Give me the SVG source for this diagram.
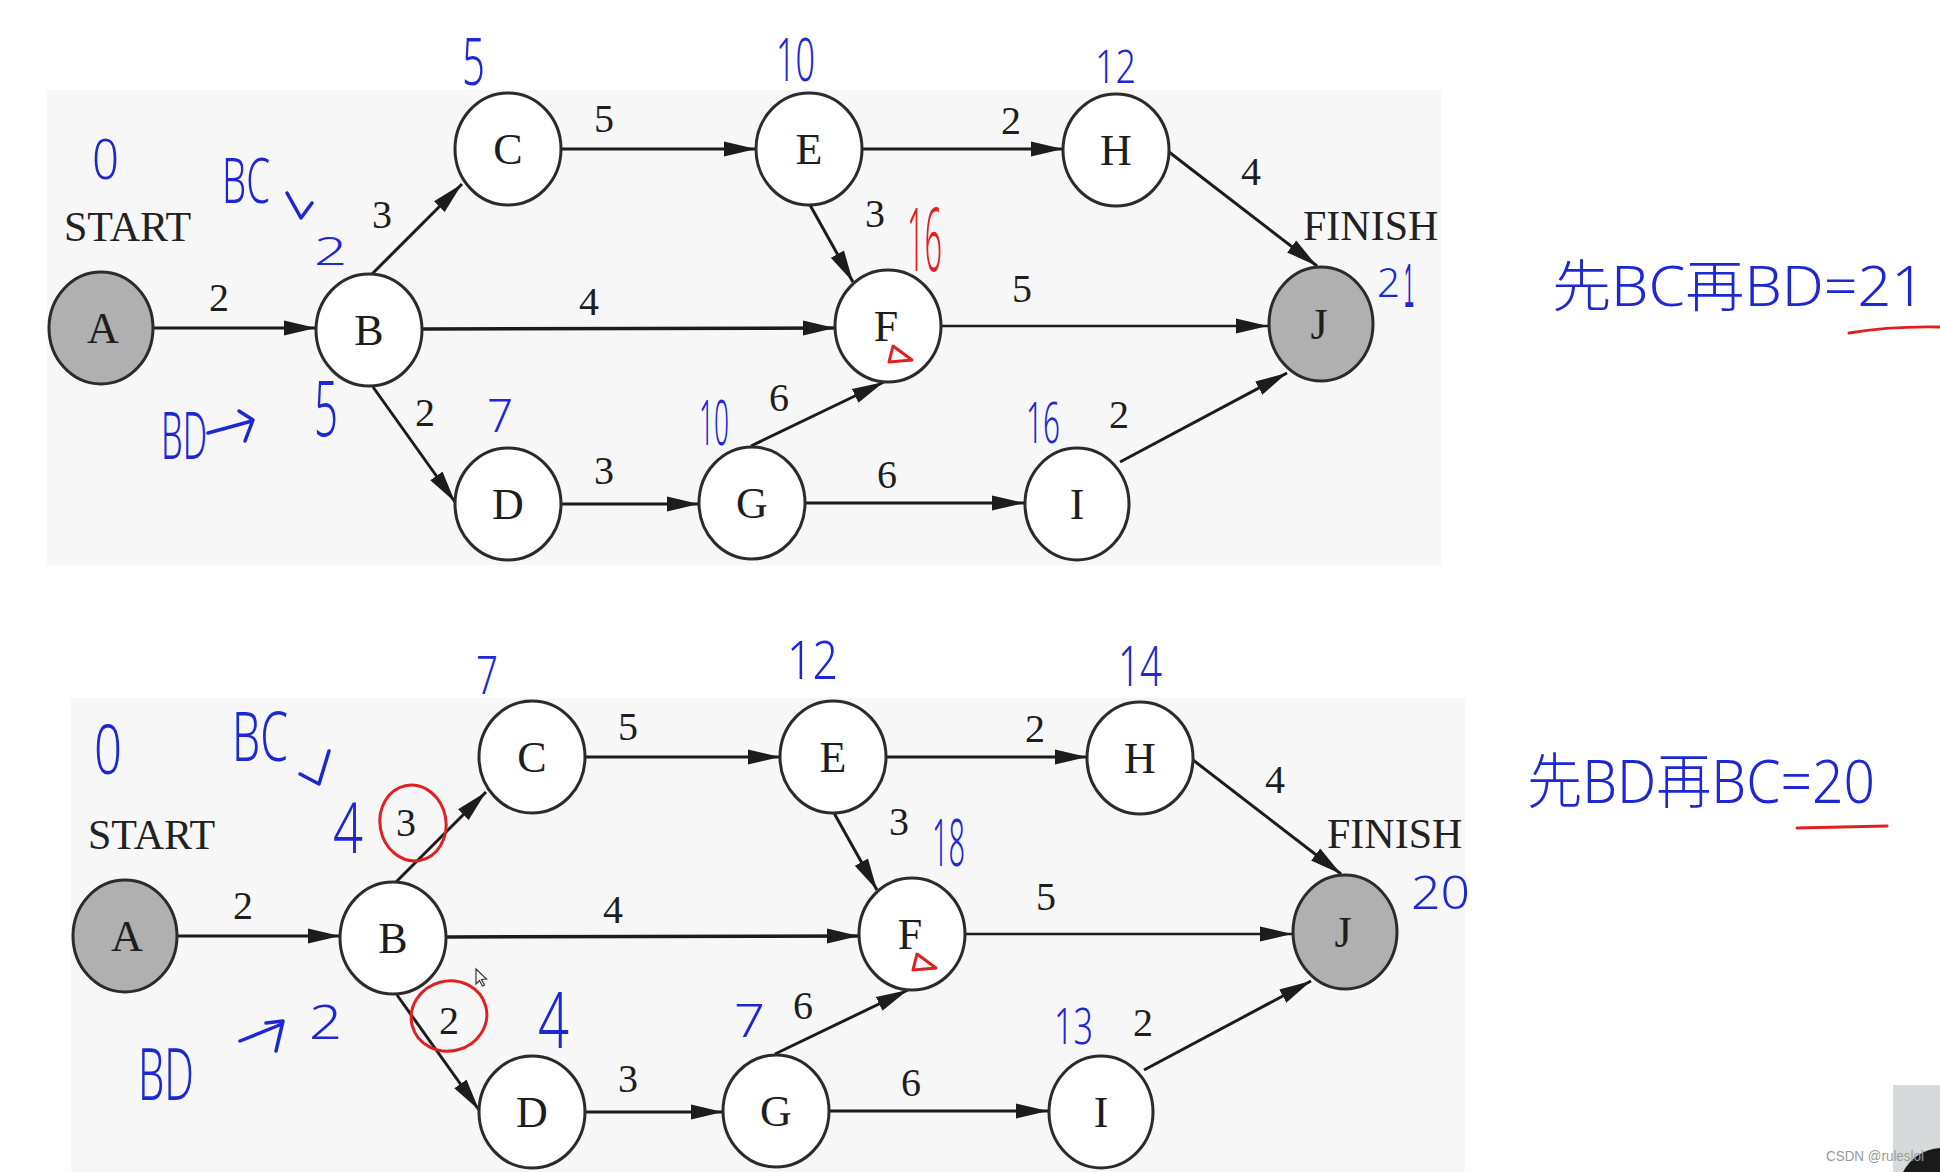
<svg xmlns="http://www.w3.org/2000/svg" width="1940" height="1172" viewBox="0 0 1940 1172">
<style>
.bg{fill:#f7f7f7}
.nd{fill:#ffffff;stroke:#2b2b2b;stroke-width:3}
.nd.term{fill:#b0b0b0}
.lt{font-family:"Liberation Serif","Times New Roman",serif;font-size:44px;fill:#1e1e1e;text-anchor:middle}
.el{font-family:"Liberation Serif","Times New Roman",serif;font-size:40px;fill:#1e1e1e;text-anchor:middle}
.cap{font-family:"Liberation Serif","Times New Roman",serif;font-size:42px;fill:#222}
.ed{stroke:#1c1c1c;stroke-width:3;fill:none;marker-end:url(#arr)}
.hw{font-family:"Noto Sans","Noto Sans CJK SC",sans-serif;font-weight:300;fill:#1e28d2}
.hwr{font-family:"Noto Sans","Noto Sans CJK SC",sans-serif;font-weight:300;fill:#e02020}
.pen{fill:none;stroke:#1e28d2;stroke-width:3.5;stroke-linecap:round;stroke-linejoin:round}
.rpen{fill:none;stroke:#e02020;stroke-width:3;stroke-linecap:round;stroke-linejoin:round}
</style>
<defs>
<marker id="arr" markerUnits="userSpaceOnUse" markerWidth="34" markerHeight="16" refX="32" refY="8" orient="auto">
<path d="M0,0.5 L32,8 L0,15.5 z" fill="#1c1c1c"/>
</marker>
</defs>
<rect width="1940" height="1172" fill="#ffffff"/>

<!-- Top diagram -->
<g id="diagram1">
<rect class="bg" x="47" y="90" width="1394" height="475"/>
<text class="cap" x="64" y="241">START</text>
<text class="cap" x="1303" y="240">FINISH</text>
<g id="d1-connectors">
<path class="ed" d="M153,328 L316,328"/>
<path class="ed" d="M372,274 L462,184"/>
<path class="ed" d="M422,329 L835,328" style="stroke-width:3.5"/>
<path class="ed" d="M373,387 L455,502"/>
<path class="ed" d="M561,149 L756,149"/>
<path class="ed" d="M561,504 L699,504"/>
<path class="ed" d="M751,446 L884,382"/>
<path class="ed" d="M805,503 L1024,503"/>
<path class="ed" d="M862,149 L1063,149"/>
<path class="ed" d="M810,205 L853,282"/>
<path class="ed" d="M1169,152 L1317,266"/>
<path class="ed" d="M941,326 L1268,326" style="stroke-width:2.5"/>
<path class="ed" d="M1120,462 L1287,373"/>
<text class="el" x="219" y="311">2</text>
<text class="el" x="382" y="228">3</text>
<text class="el" x="589" y="315">4</text>
<text class="el" x="425" y="426">2</text>
<text class="el" x="604" y="132">5</text>
<text class="el" x="604" y="484">3</text>
<text class="el" x="779" y="411">6</text>
<text class="el" x="1011" y="134">2</text>
<text class="el" x="875" y="227">3</text>
<text class="el" x="1251" y="185">4</text>
<text class="el" x="1022" y="302">5</text>
<text class="el" x="887" y="488">6</text>
<text class="el" x="1119" y="428">2</text>
</g>
<g id="d1-A"><ellipse class="nd term" cx="101" cy="328" rx="52" ry="56"/><text class="lt" x="103" y="343">A</text></g>
<g id="d1-B"><ellipse class="nd" cx="369" cy="330" rx="53" ry="56"/><text class="lt" x="369" y="345">B</text></g>
<g id="d1-C"><ellipse class="nd" cx="508" cy="149" rx="53" ry="56"/><text class="lt" x="508" y="164">C</text></g>
<g id="d1-D"><ellipse class="nd" cx="508" cy="504" rx="53" ry="56"/><text class="lt" x="508" y="519">D</text></g>
<g id="d1-E"><ellipse class="nd" cx="809" cy="149" rx="53" ry="56"/><text class="lt" x="809" y="164">E</text></g>
<g id="d1-F"><ellipse class="nd" cx="888" cy="326" rx="53" ry="56"/><text class="lt" x="886" y="341">F</text></g>
<g id="d1-G"><ellipse class="nd" cx="752" cy="503" rx="53" ry="56"/><text class="lt" x="752" y="518">G</text></g>
<g id="d1-H"><ellipse class="nd" cx="1116" cy="150" rx="53" ry="56"/><text class="lt" x="1116" y="165">H</text></g>
<g id="d1-I"><ellipse class="nd" cx="1077" cy="504" rx="52" ry="56"/><text class="lt" x="1077" y="519">I</text></g>
<g id="d1-J"><ellipse class="nd term" cx="1321" cy="324" rx="52" ry="57"/><text class="lt" x="1319" y="339">J</text></g>
</g>

<!-- Bottom diagram -->
<g id="diagram2" transform="translate(24,608)">
<rect class="bg" x="47" y="90" width="1394" height="480"/>
<text class="cap" x="64" y="241">START</text>
<text class="cap" x="1303" y="240">FINISH</text>
<g id="d2-connectors">
<path class="ed" d="M153,328 L316,328"/>
<path class="ed" d="M372,274 L462,184"/>
<path class="ed" d="M422,329 L835,328" style="stroke-width:3.5"/>
<path class="ed" d="M373,387 L455,502"/>
<path class="ed" d="M561,149 L756,149"/>
<path class="ed" d="M561,504 L699,504"/>
<path class="ed" d="M751,446 L884,382"/>
<path class="ed" d="M805,503 L1024,503"/>
<path class="ed" d="M862,149 L1063,149"/>
<path class="ed" d="M810,205 L853,282"/>
<path class="ed" d="M1169,152 L1317,266"/>
<path class="ed" d="M941,326 L1268,326" style="stroke-width:2.5"/>
<path class="ed" d="M1120,462 L1287,373"/>
<text class="el" x="219" y="311">2</text>
<text class="el" x="382" y="228">3</text>
<text class="el" x="589" y="315">4</text>
<text class="el" x="425" y="426">2</text>
<text class="el" x="604" y="132">5</text>
<text class="el" x="604" y="484">3</text>
<text class="el" x="779" y="411">6</text>
<text class="el" x="1011" y="134">2</text>
<text class="el" x="875" y="227">3</text>
<text class="el" x="1251" y="185">4</text>
<text class="el" x="1022" y="302">5</text>
<text class="el" x="887" y="488">6</text>
<text class="el" x="1119" y="428">2</text>
</g>
<g id="d2-A"><ellipse class="nd term" cx="101" cy="328" rx="52" ry="56"/><text class="lt" x="103" y="343">A</text></g>
<g id="d2-B"><ellipse class="nd" cx="369" cy="330" rx="53" ry="56"/><text class="lt" x="369" y="345">B</text></g>
<g id="d2-C"><ellipse class="nd" cx="508" cy="149" rx="53" ry="56"/><text class="lt" x="508" y="164">C</text></g>
<g id="d2-D"><ellipse class="nd" cx="508" cy="504" rx="53" ry="56"/><text class="lt" x="508" y="519">D</text></g>
<g id="d2-E"><ellipse class="nd" cx="809" cy="149" rx="53" ry="56"/><text class="lt" x="809" y="164">E</text></g>
<g id="d2-F"><ellipse class="nd" cx="888" cy="326" rx="53" ry="56"/><text class="lt" x="886" y="341">F</text></g>
<g id="d2-G"><ellipse class="nd" cx="752" cy="503" rx="53" ry="56"/><text class="lt" x="752" y="518">G</text></g>
<g id="d2-H"><ellipse class="nd" cx="1116" cy="150" rx="53" ry="56"/><text class="lt" x="1116" y="165">H</text></g>
<g id="d2-I"><ellipse class="nd" cx="1077" cy="504" rx="52" ry="56"/><text class="lt" x="1077" y="519">I</text></g>
<g id="d2-J"><ellipse class="nd term" cx="1321" cy="324" rx="52" ry="57"/><text class="lt" x="1319" y="339">J</text></g>
</g>

<!-- Handwritten annotations, top -->
<g id="notes1">
<text class="hw" x="92" y="179" font-size="56" textLength="27" lengthAdjust="spacingAndGlyphs">0</text>
<text class="hw" x="222" y="203" font-size="62" textLength="48" lengthAdjust="spacingAndGlyphs">BC</text>
<path class="pen" d="M287,193 L301,218 L312,203"/>
<text class="hw" x="314" y="265" font-size="39" textLength="33" lengthAdjust="spacingAndGlyphs">2</text>
<text class="hw" x="314" y="436" font-size="78" textLength="24" lengthAdjust="spacingAndGlyphs">5</text>
<text class="hw" x="161" y="459" font-size="66" textLength="46" lengthAdjust="spacingAndGlyphs">BD</text>
<path class="pen" d="M208,433 L252,421 M239,411 L253,420 L245,441"/>
<text class="hw" x="487" y="432" font-size="45" textLength="26" lengthAdjust="spacingAndGlyphs">7</text>
<text class="hw" transform="translate(699,445) scale(1,1.6)" font-size="39" textLength="30" lengthAdjust="spacingAndGlyphs">10</text>
<text class="hw" x="462" y="85" font-size="66" textLength="23" lengthAdjust="spacingAndGlyphs">5</text>
<text class="hw" x="776" y="81" font-size="60" textLength="39" lengthAdjust="spacingAndGlyphs">10</text>
<text class="hw" x="1095" y="83" font-size="45" textLength="41" lengthAdjust="spacingAndGlyphs">12</text>
<text class="hwr" x="907" y="271" font-size="88" textLength="35" lengthAdjust="spacingAndGlyphs">16</text>
<path class="rpen" d="M893,346 L889,362 L912,360 Z"/>
<text class="hw" x="1377" y="297" font-size="40" textLength="23" lengthAdjust="spacingAndGlyphs">2</text>
<text transform="translate(1404,307) scale(1,2.1)" font-family="Liberation Sans, Arial, sans-serif" font-size="30" fill="#1e28d2" textLength="10" lengthAdjust="spacingAndGlyphs">1</text>
<text class="hw" transform="translate(1026,443) scale(1,1.5)" font-size="38" textLength="34" lengthAdjust="spacingAndGlyphs">16</text>
<text class="hw" x="1552" y="306" font-size="56" textLength="373" lengthAdjust="spacingAndGlyphs">先BC再BD=21</text>
<path class="rpen" d="M1849,333 Q1890,326 1940,327"/>
</g>

<!-- Handwritten annotations, bottom -->
<g id="notes2">
<text class="hw" x="94" y="774" font-size="68" textLength="28" lengthAdjust="spacingAndGlyphs">0</text>
<text class="hw" x="232" y="761" font-size="68" textLength="56" lengthAdjust="spacingAndGlyphs">BC</text>
<path class="pen" d="M300,774 L319,784 L329,751"/>
<text class="hw" x="333" y="853" font-size="70" textLength="30" lengthAdjust="spacingAndGlyphs">4</text>
<ellipse class="rpen" cx="413" cy="823" rx="33" ry="38" transform="rotate(-10 413 823)"/>
<text class="hw" x="476" y="694" font-size="54" textLength="22" lengthAdjust="spacingAndGlyphs">7</text>
<text class="hw" x="138" y="1100" font-size="72" textLength="56" lengthAdjust="spacingAndGlyphs">BD</text>
<path class="pen" d="M240,1041 L282,1024 M266,1023 L283,1021 L276,1051"/>
<text class="hw" x="309" y="1039" font-size="48" textLength="33" lengthAdjust="spacingAndGlyphs">2</text>
<ellipse class="rpen" cx="449" cy="1016" rx="38" ry="35" transform="rotate(-15 449 1016)"/>
<path d="M476,969 L476,984 L479.5,980.5 L482.5,986 L484.5,985 L481.5,979.5 L486.5,979 Z" fill="#ffffff" stroke="#333" stroke-width="1.2"/>
<text class="hw" x="538" y="1048" font-size="78" textLength="31" lengthAdjust="spacingAndGlyphs">4</text>
<text class="hw" x="734" y="1037" font-size="46" textLength="31" lengthAdjust="spacingAndGlyphs">7</text>
<text class="hw" x="787" y="679" font-size="54" textLength="51" lengthAdjust="spacingAndGlyphs">12</text>
<text class="hw" x="1118" y="686" font-size="56" textLength="44" lengthAdjust="spacingAndGlyphs">14</text>
<text class="hw" x="932" y="866" font-size="66" textLength="33" lengthAdjust="spacingAndGlyphs">18</text>
<path class="rpen" d="M917,954 L913,970 L936,968 Z"/>
<text class="hw" x="1411" y="909" font-size="46" textLength="59" lengthAdjust="spacingAndGlyphs">20</text>
<text class="hw" x="1054" y="1044" font-size="49" textLength="39" lengthAdjust="spacingAndGlyphs">13</text>
<text class="hw" x="1527" y="803" font-size="60" textLength="348" lengthAdjust="spacingAndGlyphs">先BD再BC=20</text>
<path class="rpen" d="M1797,828 L1887,826"/>
</g>

<!-- corner overlays -->
<g id="overlay">
<rect x="1893" y="1085" width="47" height="87" fill="#d6dadb"/>
<path d="M1903,1172 Q1915,1150 1940,1148 L1940,1172 Z" fill="#1a1a1a"/>
<text x="1826" y="1161" font-family="Liberation Sans, Arial, sans-serif" font-size="15" fill="#9a9a9a" textLength="98" lengthAdjust="spacingAndGlyphs">CSDN @ruleslol</text>
</g>
</svg>
